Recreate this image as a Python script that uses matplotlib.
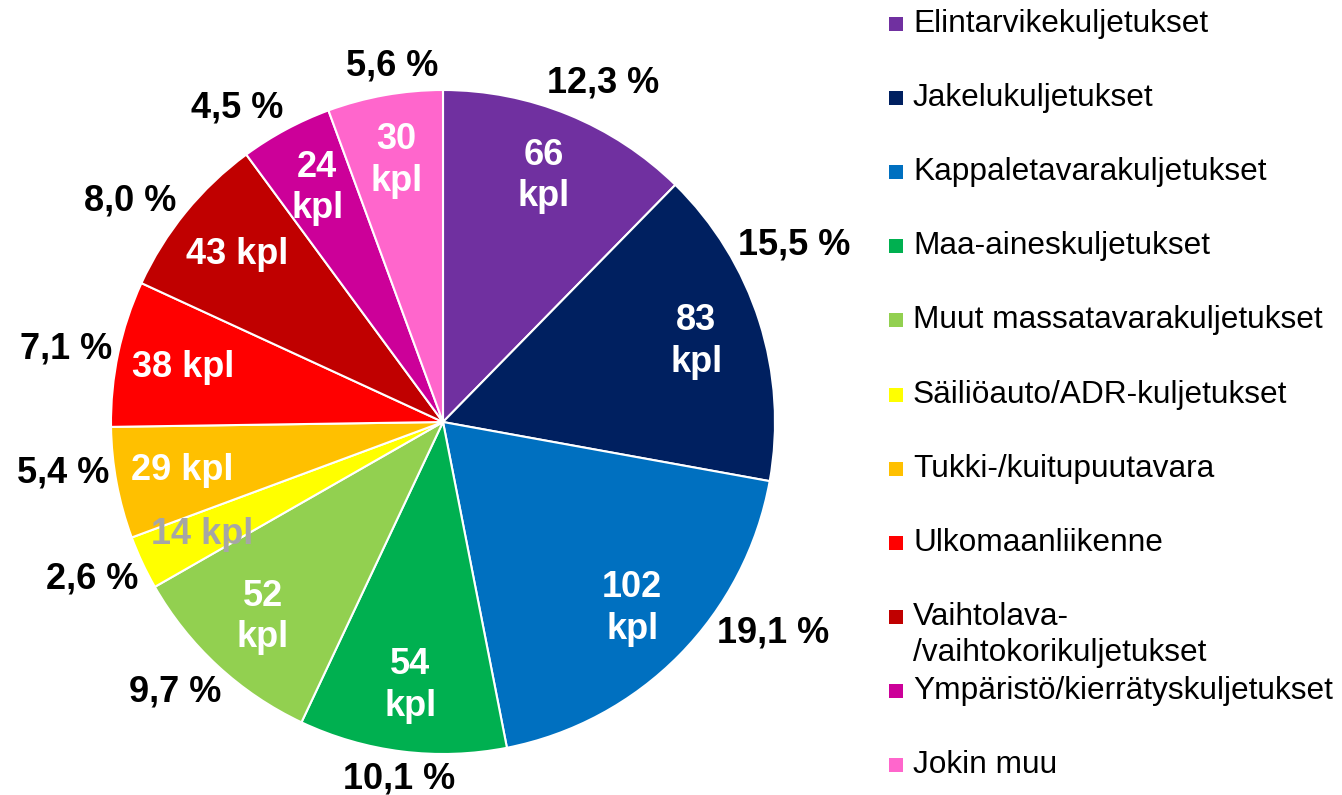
import numpy as np
import matplotlib
matplotlib.use('Agg')
import matplotlib.pyplot as plt
from matplotlib.patches import Rectangle

plt.rcParams['font.family'] = ['Liberation Sans', 'DejaVu Sans']

# Données
categories = ['Elintarvikekuljetukset', 'Jakelukuljetukset', 'Kappaletavarakuljetukset',
              'Maa-aineskuljetukset', 'Muut massatavarakuljetukset', 'Säiliöauto/ADR-kuljetukset',
              'Tukki-/kuitupuutavara', 'Ulkomaanliikenne', 'Vaihtolava-\n/vaihtokorikuljetukset',
              'Ympäristö/kierrätyskuljetukset', 'Jokin muu']
counts = [66, 83, 102, 54, 52, 14, 29, 38, 43, 24, 30]
inside_labels = ['66\nkpl', '83\nkpl', '102\nkpl', '54\nkpl', '52\nkpl', '14 kpl',
                 '29 kpl', '38 kpl', '43 kpl', '24\nkpl', '30\nkpl']

colors = ['#7030A0', '#002060', '#0070C0', '#00B050', '#92D050', '#FFFF00',
          '#FFC000', '#FF0000', '#C00000', '#CC0099', '#FF66CC']
inside_colors = ['white'] * 5 + ['#A6A6A6'] + ['white'] * 5
# décalage angulaire des étiquettes extérieures (degrés), comme dans l'original
pct_nudge = [3, -9, -12, 0, 2, 1, 3, -1, -4, -5, 2]

W, H = 1342, 795
fig = plt.figure(figsize=(W / 100, H / 100), dpi=100)

# Camembert
cx, cy, R = 443, 422, 332
ax = fig.add_axes([(cx - R) / W, (H - cy - R) / H, 2 * R / W, 2 * R / H])
wedges, _ = ax.pie(counts, colors=colors, startangle=90, counterclock=False,
                   wedgeprops=dict(edgecolor='white', linewidth=1.5))
ax.set_xlim(-1, 1)
ax.set_ylim(-1, 1)

total = sum(counts)
cum = np.cumsum([0] + counts)
renderer = fig.canvas.get_renderer()
scale = ax.transData.transform((1, 0))[0] - ax.transData.transform((0, 0))[0]

for i, v in enumerate(counts):
    mid = (cum[i] + v / 2) / total * 360
    theta = np.radians(mid)
    sx, cyv = np.sin(theta), np.cos(theta)
    # étiquette intérieure
    ax.text(0.8 * sx, 0.8 * cyv, inside_labels[i], ha='center', va='center',
            fontsize=26, fontweight='bold', color=inside_colors[i], linespacing=1.25)
    # pourcentage extérieur
    th2 = np.radians(mid + pct_nudge[i])
    px, py = np.sin(th2), np.cos(th2)
    pct = f"{v / total * 100:.1f} %".replace('.', ',')
    t = ax.text(0, 0, pct, ha='center', va='center', fontsize=26, fontweight='bold',
                color='black')
    bb = t.get_window_extent(renderer)
    r = 1 + (bb.width / 2 * abs(px) + bb.height / 2 * abs(py)) / scale + 0.01
    t.set_position((r * px, r * py))

# Légende
lg = fig.add_axes([0, 0, 1, 1], zorder=-1)
lg.set_xlim(0, W)
lg.set_ylim(H, 0)
lg.axis('off')
y0, pitch = 24, 74.1
for i, (lab, col) in enumerate(zip(categories, colors)):
    y = y0 + i * pitch
    lg.add_patch(Rectangle((889, y - 7), 14, 14, facecolor=col, edgecolor='none'))
    for j, line in enumerate(lab.split('\n')):
        lg.text(913, y + j * 36, line, ha='left', va='center', fontsize=22.8,
                color='black')

fig.savefig('out.png', dpi=100)
